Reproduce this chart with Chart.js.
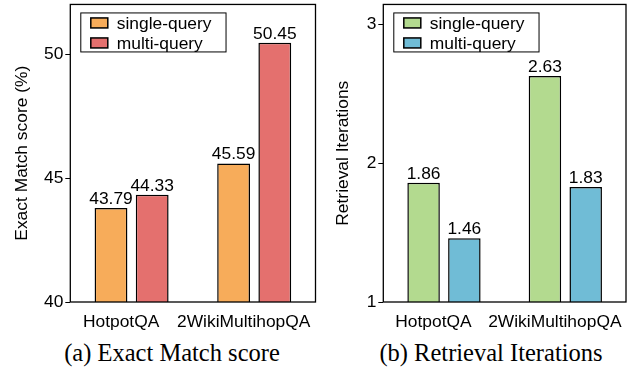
<!DOCTYPE html>
<html>
<head>
<meta charset="utf-8">
<script src="https://cdn.jsdelivr.net/npm/chart.js@4"></script>
<style>
    body { margin: 0; background: #fff; width: 629px; height: 367px; position: relative; overflow: hidden; }
    canvas { position: absolute; top: -8px; }
    .sub { position: absolute; top: 341px; width: 300px; text-align: center;
           font-family: "Liberation Serif", serif; font-size: 24.5px; line-height: 24px; color: #000; }
</style>
</head>
<body>
<canvas id="em" width="320" height="345" style="left:0"></canvas>
<canvas id="iter" width="309" height="345" style="left:320px"></canvas>
<div class="sub" style="left:22px">(a) Exact Match score</div>
<div class="sub" style="left:341px">(b) Retrieval Iterations</div>
<script>
var categories = ['HotpotQA', '2WikiMultihopQA'];
var seriesNames = ['single-query', 'multi-query'];
var emSingle = [43.79, 45.59];
var emMulti = [44.33, 50.45];
var iterSingle = [1.86, 2.63];
var iterMulti = [1.46, 1.83];
var emTicks = [40, 45, 50];
var iterTicks = [1, 2, 3];

var FONT = '"Liberation Sans", Arial, sans-serif';
var SIZE = 17.4;

// box round the plot, values over the bars, legend in a frame
var framePlugin = {
    id: 'frame',
    afterDraw: function (chart) {
        var c = chart.ctx, a = chart.chartArea;
        c.save();
        c.strokeStyle = '#000';
        c.lineWidth = 1.3;
        c.strokeRect(a.left, a.top, a.right - a.left, a.bottom - a.top);

        // value labels
        c.font = Chart.helpers.toFont({ family: FONT, size: SIZE }).string;
        c.fillStyle = '#000';
        c.textAlign = 'center';
        c.textBaseline = 'alphabetic';
        chart.data.datasets.forEach(function (ds, i) {
            chart.getDatasetMeta(i).data.forEach(function (bar, j) {
                c.fillText(ds.data[j].toFixed(2), bar.x, bar.y - 4);
            });
        });

        // legend
        var bx = a.left + 10, by = a.top + 8;
        var w = 0;
        chart.data.datasets.forEach(function (ds) { w = Math.max(w, c.measureText(ds.label).width); });
        c.lineWidth = 1;
        c.strokeRect(bx + 0.5, by + 0.5, 36.5 + w + 14, 39);
        c.textAlign = 'left';
        c.textBaseline = 'middle';
        chart.data.datasets.forEach(function (ds, i) {
            var y = by + 10.5 + i * 20;
            c.fillStyle = ds.backgroundColor;
            c.fillRect(bx + 10.5, y - 5, 17, 10);
            c.lineWidth = 1.5;
            c.strokeRect(bx + 10.5, y - 5, 17, 10);
            c.fillStyle = '#000';
            c.fillText(ds.label, bx + 36.5, y + 1);
        });
        c.restore();
    }
};

function makeChart(id, single, multi, colors, tickVals, yMin, yMax, title, axisW, titlePad, padRight) {
    return new Chart(document.getElementById(id), {
        type: 'bar',
        data: {
            labels: categories,
            datasets: [{
                label: seriesNames[0],
                data: single,
                backgroundColor: colors[0],
                borderColor: '#000',
                borderWidth: 1.5,
                borderSkipped: false,
                categoryPercentage: 0.672,
                barPercentage: 0.797
            }, {
                label: seriesNames[1],
                data: multi,
                backgroundColor: colors[1],
                borderColor: '#000',
                borderWidth: 1.5,
                borderSkipped: false,
                categoryPercentage: 0.672,
                barPercentage: 0.797
            }]
        },
        options: {
            responsive: false,
            animation: false,
            devicePixelRatio: 1,
            layout: { padding: { left: 0, top: 6, right: padRight, bottom: 0 } },
            plugins: { legend: { display: false }, tooltip: { enabled: false } },
            scales: {
                x: {
                    grid: { display: false, drawTicks: false },
                    border: { display: false },
                    ticks: { color: '#000', font: { family: FONT, size: SIZE }, padding: 10, labelOffset: -10.5,
                             maxRotation: 0, minRotation: 0, autoSkip: false },
                    afterFit: function (s) { s.height = 35; s.paddingLeft = 0; s.paddingRight = 0; }
                },
                y: {
                    min: yMin,
                    max: yMax,
                    grid: { drawOnChartArea: false, drawTicks: true, tickLength: 5, color: '#000', lineWidth: 1 },
                    border: { display: false },
                    ticks: { color: '#000', font: { family: FONT, size: SIZE }, padding: 2 },
                    afterBuildTicks: function (s) { s.ticks = tickVals.map(function (v) { return { value: v }; }); },
                    title: { display: true, text: title, color: '#000', font: { family: FONT, size: SIZE }, padding: { top: titlePad, bottom: 0 } },
                    afterFit: function (s) { s.width = axisW; }
                }
            }
        },
        plugins: [framePlugin]
    });
}

makeChart('em', emSingle, emMulti, ['#F7AC5A', '#E4706E'], emTicks, 40, 52,
    'Exact Match score (%)', 70.3, 12, 4.5);
makeChart('iter', iterSingle, iterMulti, ['#B3DA8F', '#70BCD6'], iterTicks, 1, 3.146,
    'Retrieval Iterations', 63.3, 13, 3);
</script>
</body>
</html>
